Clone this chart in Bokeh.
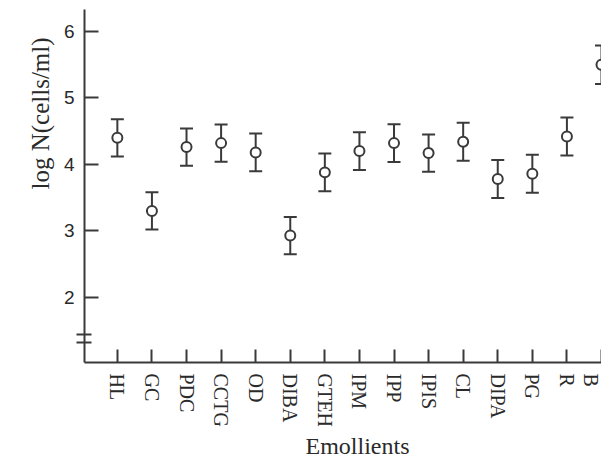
from bokeh.plotting import figure
from bokeh.models import (ColumnDataSource, Range1d, FixedTicker, Whisker, TeeHead,
                          Title)
from bokeh.embed import file_html
from bokeh.resources import INLINE

categories = ["HL", "GC", "PDC", "CCTG", "OD", "DIBA", "GTEH", "IPM", "IPP",
              "IPIS", "CL", "DIPA", "PG", "R", "B"]
log_n = [4.40, 3.30, 4.26, 4.32, 4.18, 2.93, 3.88, 4.20, 4.32,
         4.17, 4.34, 3.78, 3.86, 4.42, 5.50]
err = [0.28, 0.28, 0.28, 0.28, 0.285, 0.28, 0.285, 0.283, 0.285,
       0.28, 0.285, 0.285, 0.285, 0.285, 0.29]
y_ticks = [2, 3, 4, 5, 6]
axis_break = [1.315, 1.44]
y_title = "log N(cells/ml)"
x_title = "Emollients"

LINE = "#3a3a3a"
TEXT = "#2a2a2a"

xs = list(range(1, len(categories) + 1))
src = ColumnDataSource(dict(
    x=xs, y=log_n,
    upper=[v + e for v, e in zip(log_n, err)],
    lower=[v - e for v, e in zip(log_n, err)],
))

p = figure(width=601, height=460, output_backend="svg", toolbar_location=None,
           x_range=Range1d(0.05, 15.0), y_range=Range1d(1.02, 6.33),
           min_border_left=84, min_border_right=0, min_border_top=9,
           min_border_bottom=97)
p.outline_line_color = None
p.xgrid.visible = False
p.ygrid.visible = False
p.background_fill_color = "white"
p.border_fill_color = "white"

for ax in (p.xaxis[0], p.yaxis[0]):
    ax.axis_line_color = LINE
    ax.axis_line_width = 2
    ax.major_tick_line_color = LINE
    ax.major_tick_line_width = 2
    ax.major_tick_out = 0
    ax.major_label_text_color = TEXT

p.xaxis.ticker = FixedTicker(ticks=xs)
p.xaxis.minor_tick_line_color = None
p.xaxis.major_label_overrides = {x: c for x, c in zip(xs, categories)}
p.xaxis.major_label_orientation = "vertical"
p.xaxis.major_tick_in = 13
p.xaxis.major_label_standoff = 11
p.xaxis.major_label_text_font = "Liberation Serif"
p.xaxis.major_label_text_font_size = "20px"

# y axis: break marks drawn as minor ticks crossing the axis line
p.yaxis.ticker = FixedTicker(ticks=y_ticks, minor_ticks=axis_break)
p.yaxis.major_tick_in = 14
p.yaxis.minor_tick_in = 7
p.yaxis.minor_tick_out = 8
p.yaxis.minor_tick_line_color = LINE
p.yaxis.minor_tick_line_width = 2
p.yaxis.major_label_standoff = 2
p.yaxis.major_label_text_font = "Liberation Sans"
p.yaxis.major_label_text_font_size = "19px"

w = Whisker(base="x", upper="upper", lower="lower", source=src, dimension="height",
            line_color=LINE, line_width=2, level="underlay",
            upper_head=TeeHead(size=13, line_color=LINE, line_width=2),
            lower_head=TeeHead(size=13, line_color=LINE, line_width=2))
p.add_layout(w)

p.scatter("x", "y", source=src, marker="circle", size=10, fill_color="white",
          line_color=LINE, line_width=2)

p.add_layout(Title(text=x_title, align="left", offset=221, standoff=3,
                   text_font="Liberation Serif", text_font_size="24px",
                   text_font_style="normal", text_color=TEXT), "below")
p.add_layout(Title(text=y_title, align="left", offset=173, standoff=13,
                   text_font="Liberation Serif", text_font_size="25px",
                   text_font_style="normal", text_color=TEXT), "left")

open("out.html", "w").write(file_html(p, INLINE))
